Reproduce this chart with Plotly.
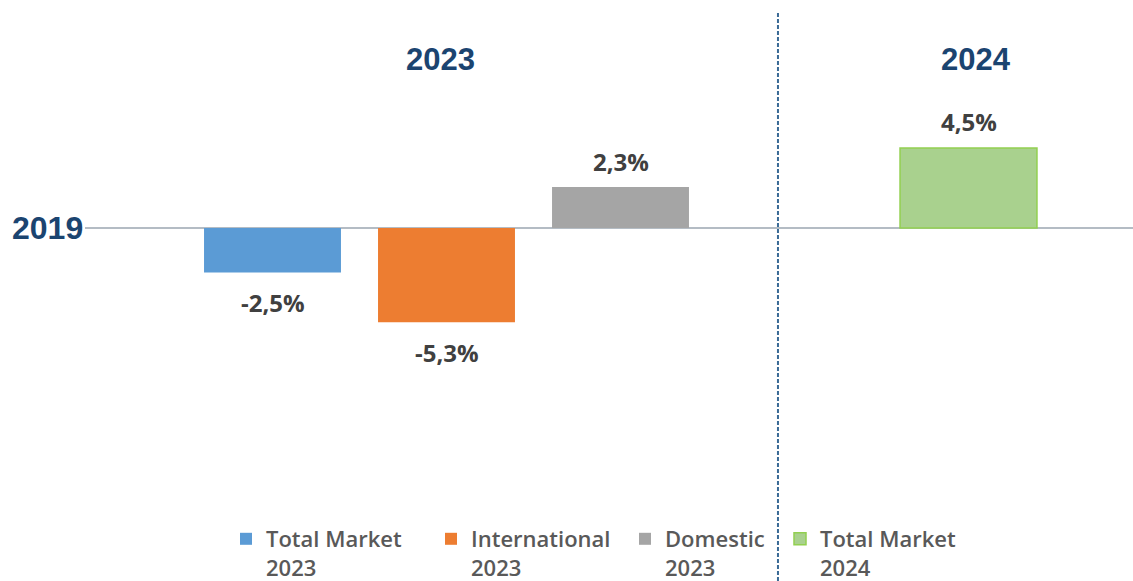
import plotly.graph_objects as go

# Data
series_names = ["Total Market<br>2023", "International<br>2023", "Domestic<br>2023", "Total Market<br>2024"]
positions = [0, 1, 2, 4]
values = [-2.5, -5.3, 2.3, 4.5]
value_labels = ["-2,5%", "-5,3%", "2,3%", "4,5%"]
colors = ["#5B9BD5", "#ED7D31", "#A5A5A5", "#A9D18E"]
border_colors = ["#5B9BD5", "#ED7D31", "#A5A5A5", "#92D050"]
group_titles = ["2023", "2024"]
baseline_label = "2019"

W, H = 1133, 581
fig = go.Figure()

legend_names = ["legend", "legend2", "legend3", "legend4"]
legend_x_px = [226, 431, 625, 780]

for i in range(4):
    fig.add_trace(go.Bar(
        x=[positions[i]], y=[values[i]], name=series_names[i],
        marker=dict(color=colors[i], line=dict(color=border_colors[i], width=1.5 if i == 3 else 0)),
        width=0.787, legend=legend_names[i], showlegend=True, hoverinfo="skip",
    ))

# value labels
for i in range(4):
    fig.add_annotation(
        x=positions[i], y=values[i], text=value_labels[i], showarrow=False,
        xref="x", yref="y", xanchor="center", yanchor="middle",
        yshift=26 if values[i] > 0 else -30,
        font=dict(family="Open Sans", size=24, color="#404040", weight="bold"),
    )

title_font = dict(family="Liberation Sans", size=31, color="#1B4470", weight="bold")
# group titles
fig.add_annotation(x=440.5 / W, y=1 - 60 / H, xref="paper", yref="paper", text=group_titles[0],
                   xanchor="center", yanchor="middle", showarrow=False, font=title_font)
fig.add_annotation(x=976 / W, y=1 - 60 / H, xref="paper", yref="paper", text=group_titles[1],
                   xanchor="center", yanchor="middle", showarrow=False, font=title_font)
fig.add_annotation(x=47.5 / W, y=0, xref="paper", yref="y", text=baseline_label,
                   xanchor="center", yanchor="middle", showarrow=False,
                   font=dict(family="Liberation Sans", size=32, color="#1B4470", weight="bold"))

# vertical dashed separator
fig.add_shape(type="line", xref="x", yref="paper", x0=2.905, x1=2.905, y0=0, y1=1 - 12 / H,
              line=dict(color="#3A6A96", width=2, dash="4px,2px"))

scale = 17.8
zero_px = 228
layout_legends = {}
for i, ln in enumerate(legend_names):
    layout_legends[ln] = dict(
        x=legend_x_px[i] / W, y=1 - 518 / H, xanchor="left", yanchor="top",
        orientation="h", valign="top", bgcolor="rgba(0,0,0,0)",
        font=dict(family="Open Sans", size=22, color="#595959", weight=600),
        itemwidth=30, tracegroupgap=0,
    )

fig.update_layout(
    width=W, height=H,
    margin=dict(l=0, r=0, t=0, b=0, pad=0, autoexpand=False),
    paper_bgcolor="white", plot_bgcolor="white",
    barmode="overlay",
    xaxis=dict(domain=[85 / W, 1], range=[-1.0776, 4.9454], visible=False, fixedrange=True),
    yaxis=dict(range=[-(H - zero_px) / scale, zero_px / scale], showgrid=False, showticklabels=False,
               zeroline=True, zerolinecolor="#B4BCC4", zerolinewidth=1.5, fixedrange=True),
    **layout_legends,
)

fig.write_html("out.html", config={"displayModeBar": False},
               post_script="document.body.style.margin='0';document.body.style.overflow='hidden';")
